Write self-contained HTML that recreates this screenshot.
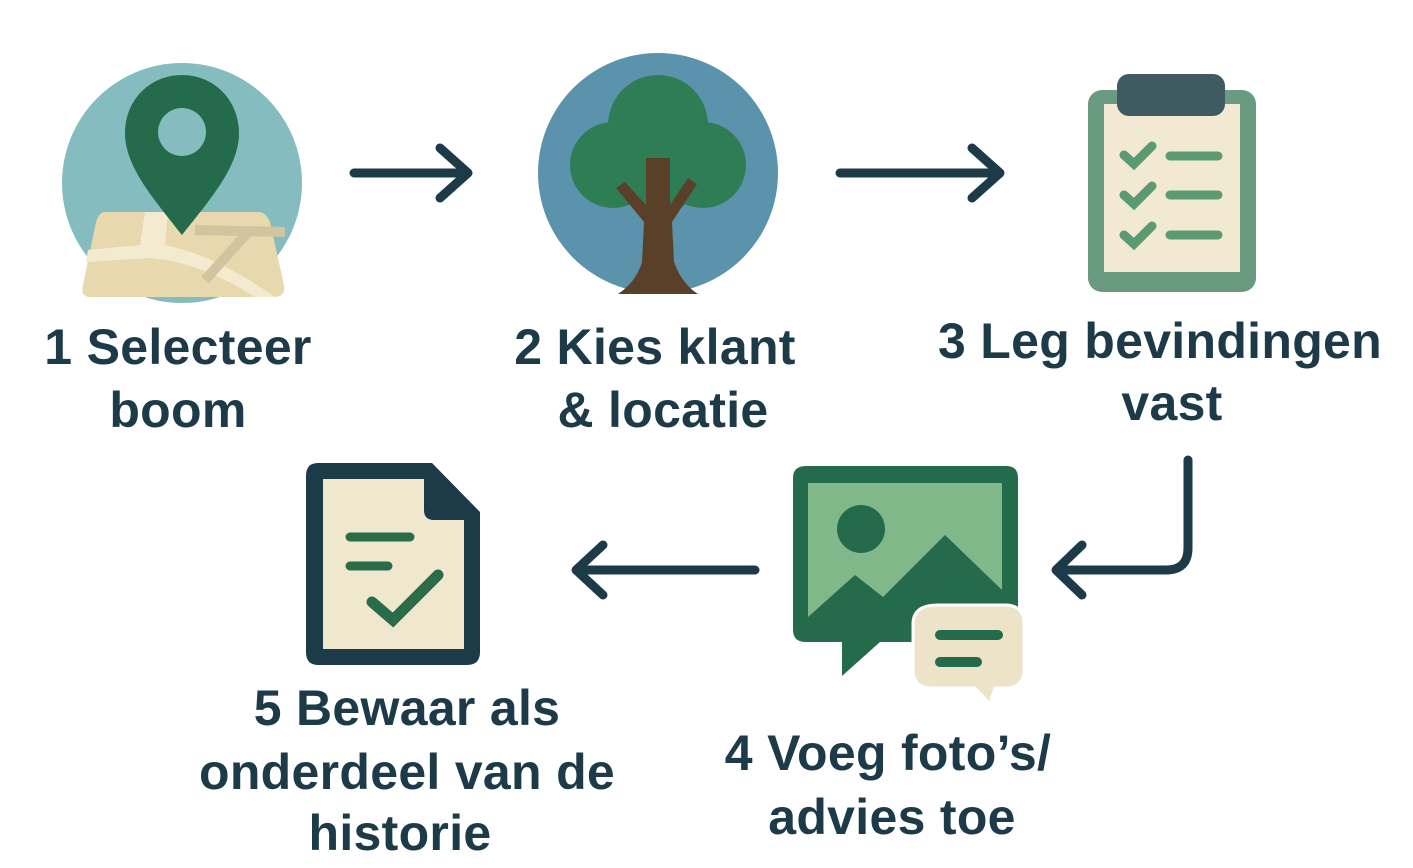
<!DOCTYPE html>
<html><head><meta charset="utf-8"><style>
html,body{margin:0;padding:0;background:#fff;width:1413px;height:868px;overflow:hidden}
text{font-family:"Liberation Sans","DejaVu Sans",sans-serif;font-weight:bold;fill:#1d3a48;font-size:50px;text-anchor:middle;letter-spacing:0.3px}
</style></head><body>
<svg width="1413" height="868" viewBox="0 0 1413 868" xmlns="http://www.w3.org/2000/svg">
<!-- 1 map pin -->
<circle cx="182" cy="183" r="120" fill="#84bcc0"/>
<path d="M105 212 L258 212 Q266 212 270 222 L284 285 Q286 297 274 297 L91 297 Q80 297 83 285 L96 222 Q99 212 105 212Z" fill="#e8d8ae"/>
<path d="M145 212 L140 245 L88 250 L86 262 L150 258 Q200 262 255 297 L275 297 Q215 255 165 245 L168 212Z" fill="#f3ead0"/>
<path d="M195 230 L285 232 M248 232 L205 280" stroke="#d2c49e" stroke-width="10" fill="none"/>
<path d="M182 75 C150 75 125 100 125 133 C125 165 150 195 182 235 C214 195 239 165 239 133 C239 100 214 75 182 75Z" fill="#236b4a"/>
<circle cx="182" cy="132" r="24" fill="#84bcc0"/>
<!-- arrow 1 -->
<path d="M354 173 L466 173 M440 148 L468 173 L440 198" stroke="#1d3a48" stroke-width="9" fill="none" stroke-linecap="round" stroke-linejoin="round"/>
<!-- 2 tree -->
<circle cx="658" cy="173" r="120" fill="#5a93ab"/>
<g fill="#2f7d55">
<circle cx="658" cy="125" r="50"/><circle cx="613" cy="165" r="43"/><circle cx="703" cy="165" r="43"/><circle cx="658" cy="175" r="40"/>
</g>
<path d="M646 158 L670 158 L670 205 L688 178 L697 184 L672 222 L674 262 Q682 284 698 294 L618 294 Q636 282 642 262 L644 222 L616 188 L625 182 L646 205Z" fill="#5a4028"/>
<!-- arrow 2 -->
<path d="M840 173 L998 173 M972 148 L1000 173 L972 198" stroke="#1d3a48" stroke-width="9" fill="none" stroke-linecap="round" stroke-linejoin="round"/>
<!-- 3 clipboard -->
<rect x="1088" y="90" width="168" height="202" rx="14" fill="#6a9a80"/>
<rect x="1104" y="104" width="136" height="168" fill="#f1e9d2"/>
<rect x="1117" y="74" width="108" height="42" rx="12" fill="#405a62"/>
<g stroke="#5b9a72" stroke-width="9" stroke-linecap="round" fill="none">
<path d="M1124 155 L1134 164 L1152 146 M1124 195 L1134 204 L1152 186 M1124 235 L1134 244 L1152 226"/>
<path d="M1170 156 L1218 156 M1170 195 L1218 195 M1170 235 L1218 235"/>
</g>
<!-- arrow 3 (bend) -->
<path d="M1188 460 L1188 548 Q1188 570 1166 570 L1058 570 M1082 545 L1056 570 L1082 595" stroke="#1d3a48" stroke-width="9" fill="none" stroke-linecap="round" stroke-linejoin="round"/>
<!-- 4 image + chat -->
<path d="M806 466 L1006 466 Q1018 466 1018 478 L1018 630 Q1018 642 1006 642 L880 642 L842 676 L842 642 L806 642 Q793 642 793 630 L793 478 Q793 466 806 466Z" fill="#236b4a"/>
<rect x="808" y="483" width="194" height="134" fill="#80b88a"/>
<circle cx="861" cy="529" r="24" fill="#236b4a"/>
<path d="M808 617 L855 575 L883 597 L945 535 L1002 590 L1002 617Z" fill="#236b4a"/>
<path d="M938 605 L1005 605 Q1024 605 1024 624 L1024 670 Q1024 688 1005 688 L995 688 L990 704 L975 688 L932 688 Q913 688 913 670 L913 624 Q913 605 938 605Z" fill="#ede3c9" stroke="#fff" stroke-width="3"/>
<g stroke="#236b4a" stroke-width="10" stroke-linecap="round"><path d="M940 635 L998 635 M940 662 L977 662"/></g>
<!-- arrow 4 -->
<path d="M755 570 L578 570 M603 545 L576 570 L603 595" stroke="#1d3a48" stroke-width="9" fill="none" stroke-linecap="round" stroke-linejoin="round"/>
<!-- 5 document -->
<path d="M318 463 L432 463 L480 512 L480 652 Q480 665 467 665 L318 665 Q306 665 306 652 L306 476 Q306 463 318 463Z" fill="#1d3a48"/>
<path d="M323 479 L424 479 L424 510 Q424 520 434 520 L464 520 L464 649 L323 649Z" fill="#f0e7cf"/>
<g stroke="#2a6b4a" stroke-width="9" stroke-linecap="round" fill="none">
<path d="M350 537 L410 537 M350 566 L388 566"/>
<path d="M372 602 L393 620 L438 575" stroke-width="11"/>
</g>
<!-- labels -->
<text x="178" y="364">1 Selecteer</text>
<text x="178" y="427">boom</text>
<text x="655" y="364">2 Kies klant</text>
<text x="663" y="427">&amp; locatie</text>
<text x="1160" y="358">3 Leg bevindingen</text>
<text x="1172" y="420">vast</text>
<text x="888" y="770">4 Voeg foto’s/</text>
<text x="892" y="834">advies toe</text>
<text x="407" y="725">5 Bewaar als</text>
<text x="407" y="789">onderdeel van de</text>
<text x="400" y="850">historie</text>
</svg>
</body></html>
